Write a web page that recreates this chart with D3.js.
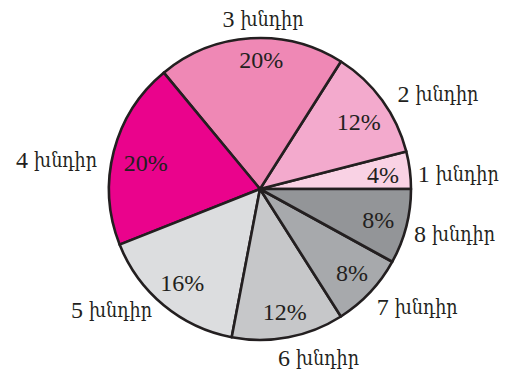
<!DOCTYPE html>
<html><head><meta charset="utf-8">
<script src="https://cdn.jsdelivr.net/npm/d3@7"></script>
<style>body{margin:0;background:#fff}svg{display:block}</style>
</head><body>
<svg id="c" width="511" height="375"></svg>
<script>
const categoryNumbers = ["1","2","3","4","5","6","7","8"];
const categoryWord = "խնդիր";
const values = [4, 12, 20, 20, 16, 12, 8, 8];
const colors = ["#f9d2e4","#f3aacd","#ef88b5","#ea038c","#dcdddf","#c6c7c9","#a7a9ac","#939598"];

// layout
const cx = 260, cy = 189, R = 151, pctR = 122, labR = 160;
const labelNudge = [[-1,5],[8,-1],[13,-10],[-8,11],[-6,-2],[-12,12],[0,8],[-1,5]];
const pctNudge = [[2,1],[0,5],[9,-7],[4,4],[0,0],[2,3],[3,0],[0,1]];
const numFont = "'Liberation Serif','Times New Roman',serif";
const wordFont = "'DejaVu Serif',serif";

const svg = d3.select("#c");
const g = svg.append("g").attr("transform", `translate(${cx},${cy})`);
const pie = d3.pie().sort(null).value(d => d).startAngle(Math.PI/2).endAngle(Math.PI/2 - 2*Math.PI);
const arcs = pie(values);
const arc = d3.arc().innerRadius(0).outerRadius(R);

g.selectAll("path").data(arcs).join("path")
  .attr("d", arc).attr("fill", (d,i) => colors[i])
  .attr("stroke", "#231f20").attr("stroke-width", 2.6).attr("stroke-linejoin","round");

function mid(d){ return (d.startAngle + d.endAngle)/2; }
const pctArc = d3.arc().innerRadius(pctR).outerRadius(pctR);
g.selectAll("text.pct").data(arcs).join("text").attr("class","pct")
  .attr("transform", (d,i) => { const c = pctArc.centroid(d); return `translate(${c[0]+pctNudge[i][0]},${c[1]+pctNudge[i][1]})`; })
  .attr("text-anchor","middle").attr("dominant-baseline","central")
  .attr("font-family", numFont).attr("font-size", 24).attr("fill","#231f20")
  .text(d => d.value + "%");

const labArc = d3.arc().innerRadius(labR).outerRadius(labR);
const labs = g.selectAll("text.lab").data(arcs).join("text").attr("class","lab")
  .attr("transform", (d,i) => { const c = labArc.centroid(d); return `translate(${c[0]+labelNudge[i][0]},${c[1]+labelNudge[i][1]})`; })
  .attr("text-anchor", d => { const s = Math.sin(mid(d)); return s > 0.15 ? "start" : s < -0.15 ? "end" : "middle"; })
  .attr("dominant-baseline","central")
  .attr("font-size", 24).attr("fill","#231f20");
labs.append("tspan").attr("font-family", numFont).text((d,i) => categoryNumbers[i] + "\u00a0");
labs.append("tspan").attr("font-family", wordFont).attr("font-size", 21)
  .attr("textLength", 63).attr("lengthAdjust","spacingAndGlyphs").text(categoryWord);
</script>
</body></html>
